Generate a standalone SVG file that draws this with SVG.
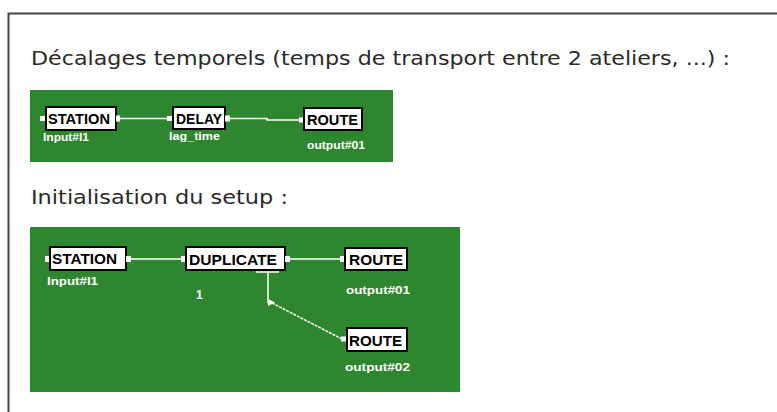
<svg xmlns="http://www.w3.org/2000/svg" width="777" height="412" viewBox="0 0 777 412">
  <style>
    .title { font-family: "DejaVu Sans", "Liberation Sans", sans-serif; font-size: 20px; fill: #2a2a2a; }
    .panel { fill: #2e872e; }
    .box { fill: #fff; stroke: #000; stroke-width: 2; }
    .name { font-family: "Liberation Sans", Arial, sans-serif; font-weight: bold; font-size: 15px; fill: #000; }
    .sub { font-family: "Liberation Sans", Arial, sans-serif; font-weight: bold; font-size: 10px; fill: #fff; }
    .num { font-family: "Liberation Sans", Arial, sans-serif; font-weight: bold; font-size: 12px; fill: #fff; }
    .port { fill: #fff; }
    .wire { stroke: #fff; stroke-width: 1.5; fill: none; }
    .dash { stroke: #fff; stroke-width: 1.5; fill: none; stroke-dasharray: 3 1; }
  </style>

  <!-- page frame -->
  <path d="M8.5,412 V13.5 H777" fill="none" stroke="#444" stroke-width="2"/>

  <text class="title" x="31" y="65" textLength="699" lengthAdjust="spacingAndGlyphs">Décalages temporels (temps de transport entre 2 ateliers, ...) :</text>
  <text class="title" x="31" y="204" textLength="257" lengthAdjust="spacingAndGlyphs">Initialisation du setup :</text>

  <!-- model 1: station -> delay -> route -->
  <rect class="panel" x="30" y="90" width="363" height="72"/>

  <g id="connectors1">
    <line class="wire" x1="120" y1="118.5" x2="168" y2="118.5"/>
    <path class="wire" d="M230,118.5 H267 V120 H300"/>
  </g>

  <g id="station1">
    <rect class="port" x="40" y="116" width="6" height="5"/>
    <rect class="box" x="46" y="107" width="70" height="23"/>
    <rect class="port" x="116" y="115.5" width="4" height="6"/>
    <text class="name" x="48" y="124" textLength="62" lengthAdjust="spacingAndGlyphs">STATION</text>
    <text class="sub" x="43" y="141" textLength="46" lengthAdjust="spacingAndGlyphs">Input#I1</text>
  </g>

  <g id="delay1">
    <rect class="port" x="167" y="116" width="6" height="5"/>
    <rect class="box" x="173" y="107" width="52" height="22"/>
    <rect class="port" x="225" y="115.5" width="5" height="6"/>
    <text class="name" x="176" y="124" textLength="46" lengthAdjust="spacingAndGlyphs">DELAY</text>
    <text class="sub" x="169" y="140" textLength="51" lengthAdjust="spacingAndGlyphs">lag_time</text>
  </g>

  <g id="route1">
    <rect class="port" x="299" y="117.5" width="5" height="5"/>
    <rect class="box" x="304" y="108" width="58" height="22"/>
    <text class="name" x="307" y="125" textLength="51" lengthAdjust="spacingAndGlyphs">ROUTE</text>
    <text class="sub" x="307" y="149" textLength="58" lengthAdjust="spacingAndGlyphs">output#01</text>
  </g>

  <!-- model 2: station -> duplicate -> two routes -->
  <rect class="panel" x="30" y="227" width="430" height="165"/>

  <g id="connectors2">
    <line class="wire" x1="131" y1="259" x2="183" y2="259"/>
    <line class="wire" x1="290" y1="259" x2="341" y2="259"/>
    <line class="wire" x1="256" y1="272" x2="279" y2="272" stroke-width="2"/>
    <line class="wire" x1="268" y1="272" x2="268" y2="303"/>
    <path class="port" d="M268,299 L275,302.5 L268,306 Z"/>
    <path class="dash" d="M272,303 L342,339"/>
  </g>

  <g id="station2">
    <rect class="port" x="45" y="256" width="6" height="6"/>
    <rect class="box" x="50" y="247" width="76" height="23"/>
    <rect class="port" x="126" y="256" width="5" height="6"/>
    <text class="name" x="52" y="264" textLength="65" lengthAdjust="spacingAndGlyphs">STATION</text>
    <text class="sub" x="47" y="285" textLength="51" lengthAdjust="spacingAndGlyphs">Input#I1</text>
  </g>

  <g id="duplicate">
    <rect class="port" x="181" y="256" width="6" height="6"/>
    <rect class="box" x="186" y="247" width="99" height="23"/>
    <rect class="port" x="285" y="256" width="5" height="6"/>
    <text class="name" x="189" y="265" textLength="88" lengthAdjust="spacingAndGlyphs">DUPLICATE</text>
    <text class="num" x="196" y="299">1</text>
  </g>

  <g id="route2a">
    <rect class="port" x="340" y="256" width="6" height="6"/>
    <rect class="box" x="345" y="248" width="62" height="22"/>
    <text class="name" x="349" y="265" textLength="54" lengthAdjust="spacingAndGlyphs">ROUTE</text>
    <text class="sub" x="346" y="294" textLength="64" lengthAdjust="spacingAndGlyphs">output#01</text>
  </g>

  <g id="route2b">
    <rect class="port" x="341" y="336.5" width="6" height="5"/>
    <rect class="box" x="347" y="328" width="60" height="23"/>
    <text class="name" x="349" y="346" textLength="53" lengthAdjust="spacingAndGlyphs">ROUTE</text>
    <text class="sub" x="345" y="371" textLength="65" lengthAdjust="spacingAndGlyphs">output#02</text>
  </g>
</svg>
